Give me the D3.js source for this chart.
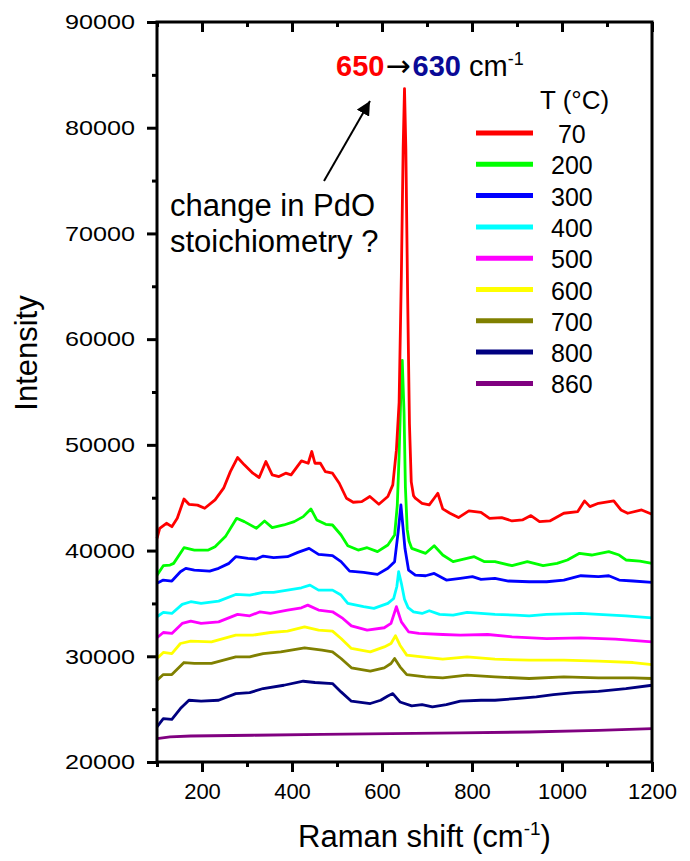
<!DOCTYPE html>
<html>
<head>
<meta charset="utf-8">
<script src="https://cdn.jsdelivr.net/npm/d3@7"></script>
<style>
    body { margin: 0; background: #fff; }
    text { font-family: "Liberation Sans", Arial, sans-serif; fill: #000; }
</style>
</head>
<body>
<svg id="vis" width="690" height="861"></svg>
<script>
/**
 * Data: [Raman shift (cm-1), intensity]
 */
var temps = ["70", "200", "300", "400", "500", "600", "700", "800", "860"];
var colors = ["#ff0000", "#00ff00", "#0000ff", "#00ffff", "#ff00ff", "#ffff00", "#808000", "#000080", "#800080"];

var s70 = [[100,41160],[106,42100],[121,42580],[133,42260],[145,43050],[160,44880],[171,44380],[190,44300],[206,44000],
    [229,44800],[248,45900],[263,47470],[279,48800],[294,48110],[313,47320],[327,46910],[342,48420],[356,47160],[371,47000],
    [386,47320],[398,47160],[421,48480],[436,48260],[444,49370],[451,48260],[463,48260],[474,47470],[490,47320],[505,46370],
    [521,44950],[536,44570],[555,44630],[573,45110],[593,44380],[613,45110],[624,46210],[632,49500],[638,54000],[643,66000],
    [647,78000],[650,83700],[653,78000],[657,64000],[661,52000],[665,46500],[670,45200],[674,44950],[689,44470],[705,44320],
    [716,44950],[724,45420],[735,43940],[751,43530],[770,43120],[793,43750],[820,43620],[839,43050],[866,43120],[889,42800],
    [912,42900],[931,43310],[950,42740],[973,42800],[1004,43530],[1035,43690],[1050,44700],[1062,44160],[1081,44470],
    [1115,44700],[1131,43840],[1146,43530],[1177,43840],[1200,43430]];
var s200 = [[100,37680],[114,38570],[129,38630],[137,38790],[160,40270],[183,40050],[214,40050],[229,40370],[252,41320],
    [277,43050],[294,42740],[321,42110],[339,42800],[356,42170],[382,42420],[405,42740],[425,43210],[442,43940],[455,42900],
    [475,42480],[490,42420],[509,41470],[524,40460],[547,40050],[567,40270],[590,39900],[613,40530],[628,41470],[634,44300],
    [638,49000],[642,55000],[645,58000],[649,53000],[652,46000],[656,42000],[660,40900],[666,40210],[697,39740],[716,40460],
    [735,39580],[758,38950],[805,39420],[828,38950],[851,38950],[889,38570],[923,38950],[958,38570],[989,38790],[1012,39110],
    [1039,39740],[1066,39580],[1104,39900],[1127,39580],[1142,39110],[1173,39010],[1200,38790]];
var s300 = [[100,36900],[114,37210],[133,37120],[152,38000],[164,38320],[183,38160],[217,38060],[237,38320],[260,38790],
    [275,39420],[302,39260],[321,39200],[336,39480],[359,39330],[390,39420],[413,39830],[438,40210],[459,39640],[490,39520],
    [509,38950],[528,38060],[559,37940],[590,37750],[613,38320],[628,38950],[636,41790],[642,44320],[651,40210],[659,38160],
    [674,37680],[697,37620],[716,37840],[743,37210],[774,37370],[801,37530],[820,37270],[851,37370],[881,37120],[927,37050],
    [966,37050],[1004,37210],[1042,37620],[1081,37530],[1104,37620],[1127,37210],[1158,37120],[1200,36990]];
var s400 = [[100,33740],[114,34150],[133,34050],[156,34910],[175,35160],[198,35000],[237,35220],[275,35850],[306,35790],
    [336,36040],[359,36040],[390,36260],[421,36480],[440,36730],[459,36260],[490,36260],[509,35790],[524,35000],[559,34690],
    [582,34530],[613,35000],[626,35470],[633,36600],[637,38000],[643,36900],[650,35400],[658,34600],[670,34210],[689,34050],
    [705,34310],[728,33960],[758,33900],[789,34150],[820,34050],[851,33960],[897,33900],[927,33830],[966,33960],[1042,34050],
    [1081,33960],[1142,33830],[1200,33640]];
var s500 = [[100,31750],[114,32250],[133,32160],[156,33110],[175,33330],[198,33110],[237,33260],[279,33960],[306,33830],
    [329,34210],[352,34050],[390,34370],[421,34590],[435,34840],[459,34370],[490,34210],[513,33580],[532,32880],[567,32470],
    [605,32700],[620,33110],[632,34690],[643,33260],[659,32320],[682,32160],[735,32060],[774,32000],[835,32060],[889,31840],
    [966,31680],[1042,31750],[1119,31620],[1200,31370]];
var s600 = [[100,29790],[114,30360],[133,30260],[152,31210],[175,31430],[221,31370],[275,32000],[313,32000],[352,32250],
    [390,32380],[428,32790],[459,32470],[490,32380],[509,31680],[532,30740],[574,30420],[605,30890],[620,31210],[630,31940],
    [640,31050],[655,30110],[689,29950],[735,29730],[789,29950],[851,29730],[927,29630],[1004,29630],[1081,29540],
    [1158,29410],[1200,29220]];
var s700 = [[100,27740],[114,28270],[133,28270],[160,29410],[183,29320],[221,29320],[275,29950],[306,29950],[336,30260],
    [375,30420],[428,30800],[467,30580],[490,30420],[509,29790],[532,28910],[574,28590],[605,28910],[620,29320],[628,29790],
    [640,29000],[655,28270],[697,28050],[735,27960],[789,28210],[851,28050],[927,27900],[1004,28050],[1081,27960],
    [1158,27960],[1200,27900]];
var s800 = [[100,23320],[114,24110],[133,24040],[152,25050],[171,25840],[198,25750],[237,25840],[275,26470],[306,26570],
    [336,26950],[382,27260],[425,27640],[451,27520],[490,27420],[509,26630],[532,25750],[574,25530],[597,25840],[613,26250],
    [624,26470],[640,25680],[666,25310],[689,25430],[712,25210],[743,25430],[774,25750],[820,25840],[851,25840],[897,26000],
    [943,26160],[981,26380],[1027,26570],[1081,26690],[1142,26950],[1200,27260]];
var s860 = [[100,22210],[129,22370],[175,22460],[313,22530],[467,22620],[620,22680],[774,22750],[927,22840],[1081,23000],
    [1200,23160]];

var spectra = [s70, s200, s300, s400, s500, s600, s700, s800, s860];

var xMajor = [200, 400, 600, 800, 1000, 1200];
var xMinor = [100, 300, 500, 700, 900, 1100];
var yMajor = [20000, 30000, 40000, 50000, 60000, 70000, 80000, 90000];
var yMinor = [25000, 35000, 45000, 55000, 65000, 75000, 85000];

window.onload = function(){
    drawChart();
};

function drawChart(){
    let svg = d3.select("#vis");

    let left = 157, right = 652, top = 22, bottom = 762;

    let xScale = d3.scaleLinear().domain([100, 1200]).range([left, right]);
    let yScale = d3.scaleLinear().domain([20000, 90000]).range([bottom, top]);

    // spectra, last one first so the red is on top
    let line = d3.line()
        .x(function(d){ return xScale(d[0]); })
        .y(function(d){ return yScale(d[1]); });

    svg.append("g").selectAll("path")
        .data(spectra.map(function(s, i){ return {pts: s, color: colors[i]}; }).reverse())
        .enter()
        .append("path")
        .attr("d", function(d){ return line(d.pts); })
        .style("fill", "none")
        .style("stroke", function(d){ return d.color; })
        .style("stroke-width", 2.8)
        .style("stroke-linejoin", "round");

    // bottom axis, ticks out
    let gx = svg.append("g").attr("transform", `translate(0,${bottom})`);
    gx.call(d3.axisBottom(xScale).tickValues(xMajor).tickSize(10).tickPadding(11).tickFormat(d3.format("d")));
    gx.append("g").call(d3.axisBottom(xScale).tickValues(xMinor).tickSize(5).tickFormat(""));
    gx.selectAll("text").style("font-size", "22px").style("font-family", '"Liberation Sans", Arial, sans-serif');

    // top axis, ticks in
    let gt = svg.append("g").attr("transform", `translate(0,${top})`);
    gt.call(d3.axisBottom(xScale).tickValues(xMajor).tickSize(10).tickFormat(""));
    gt.append("g").call(d3.axisBottom(xScale).tickValues(xMinor).tickSize(5).tickFormat(""));

    // left axis, ticks out
    let gy = svg.append("g").attr("transform", `translate(${left},0)`);
    gy.call(d3.axisLeft(yScale).tickValues(yMajor).tickSize(10).tickPadding(12).tickFormat(d3.format("d")));
    gy.append("g").call(d3.axisLeft(yScale).tickValues(yMinor).tickSize(5).tickFormat(""));
    gy.selectAll("text")
        .style("font-size", "21px")
        .style("font-family", '"Liberation Sans", Arial, sans-serif')
        .attr("textLength", 70)
        .attr("lengthAdjust", "spacingAndGlyphs");

    svg.selectAll(".domain").remove();
    svg.selectAll(".tick line").style("stroke", "#000").style("stroke-width", 3);
    svg.selectAll(".tick text").style("fill", "#000");

    // frame
    svg.append("rect")
        .attr("x", left).attr("y", top)
        .attr("width", right - left).attr("height", bottom - top)
        .style("fill", "none").style("stroke", "#000").style("stroke-width", 3);

    // axis titles
    let xt = svg.append("text").attr("x", 298).attr("y", 847).style("font-size", "31px");
    xt.append("tspan").text("Raman shift (cm");
    xt.append("tspan").attr("dy", -12).style("font-size", "19px").text("-1");
    xt.append("tspan").attr("dy", 12).text(")");

    svg.append("text")
        .attr("transform", "translate(37,353) rotate(-90)")
        .attr("text-anchor", "middle")
        .style("font-size", "31px")
        .text("Intensity");

    // peak shift note
    let note = svg.append("text").attr("x", 336).attr("y", 76).style("font-size", "29px");
    note.append("tspan").style("font-weight", "bold").style("fill", "#ff0000").text("650");
    note.append("tspan").style("font-family", '"DejaVu Sans", sans-serif').style("font-size", "30px")
        .attr("dx", 1).text("\u2192");
    note.append("tspan").style("font-weight", "bold").style("fill", "#0a0a96").attr("dx", 2).text("630");
    note.append("tspan").text(" cm");
    note.append("tspan").attr("dy", -11).style("font-size", "18px").text("-1");

    svg.append("defs").append("marker")
        .attr("id", "head")
        .attr("viewBox", "0 0 10 10")
        .attr("refX", 10).attr("refY", 5)
        .attr("markerWidth", 7).attr("markerHeight", 7)
        .attr("markerUnits", "strokeWidth")
        .attr("orient", "auto")
        .append("path").attr("d", "M0,0 L10,5 L0,10 z").style("fill", "#000");

    svg.append("line")
        .attr("x1", 324).attr("y1", 181).attr("x2", 370).attr("y2", 101)
        .style("stroke", "#000").style("stroke-width", 2)
        .attr("marker-end", "url(#head)");

    svg.append("text").attr("x", 170).attr("y", 216).style("font-size", "31px").text("change in PdO");
    svg.append("text").attr("x", 170).attr("y", 252).style("font-size", "31px").text("stoichiometry ?");

    // legend
    svg.append("text").attr("x", 540).attr("y", 109).style("font-size", "26px").text("T (\u00b0C)");

    let legend = svg.append("g").selectAll("g")
        .data(temps)
        .enter()
        .append("g")
        .attr("transform", function(d, i){ return `translate(0,${133 + i * 31.3})`; });

    legend.append("line")
        .attr("x1", 476).attr("x2", 533)
        .style("stroke", function(d, i){ return colors[i]; })
        .style("stroke-width", 5);

    legend.append("text")
        .attr("x", 551).attr("y", 10)
        .style("font-size", "25px")
        .text(function(d){ return d.length < 3 ? "\u00a0" + d : d; });
}
</script>
</body>
</html>
